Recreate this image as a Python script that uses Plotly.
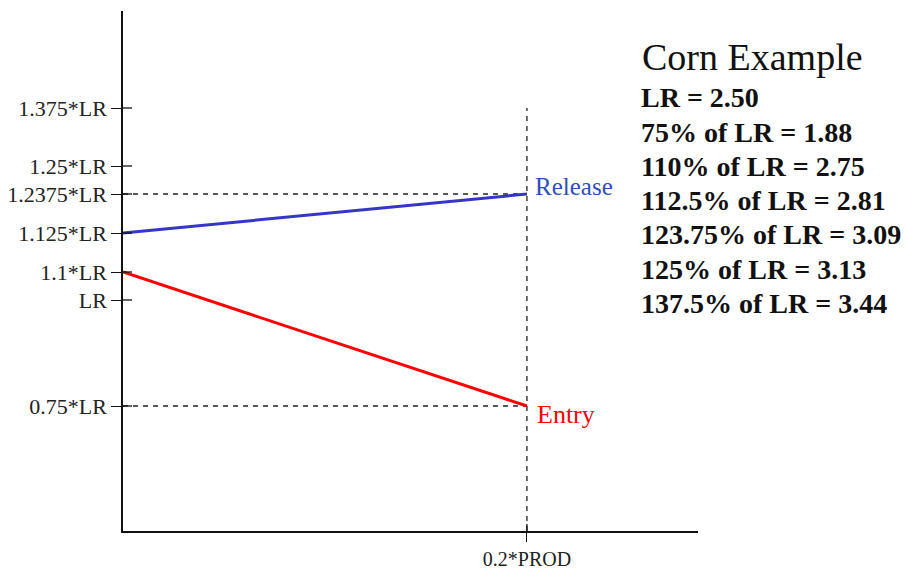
import plotly.graph_objects as go

# Schematic price levels. The reference draws them at hand-picked heights,
# not on a linear scale, so each level carries its drawn height (px above axis).
LEVEL_LABELS = ["0.75*LR", "LR", "1.1*LR", "1.125*LR", "1.2375*LR", "1.25*LR", "1.375*LR"]
LEVEL_HEIGHTS = [125, 231, 259, 298, 337, 365, 423]

PROD_X = 0.2
PROD_LABEL = "0.2*PROD"
X_MAX = 0.2847

# Trigger lines: start at 0, end at 0.2*PROD
RELEASE_Y = [298, 337]   # 1.125*LR -> 1.2375*LR
ENTRY_Y = [259, 125]     # 1.1*LR -> 0.75*LR

NOTE_TITLE = "Corn Example"
NOTE_LINES = [
    "LR = 2.50",
    "75% of LR = 1.88",
    "110% of LR = 2.75",
    "112.5% of LR = 2.81",
    "123.75% of LR = 3.09",
    "125% of LR = 3.13",
    "137.5% of LR = 3.44",
]

FONT = "Liberation Serif, Times New Roman, serif"
DASH = "5px,5px"

fig = go.Figure()

# Dashed guides
for y in (LEVEL_HEIGHTS[4], LEVEL_HEIGHTS[0]):
    fig.add_trace(go.Scatter(x=[0, PROD_X], y=[y, y], mode="lines",
                             line=dict(color="#222", width=1.3, dash=DASH),
                             hoverinfo="skip", showlegend=False))
fig.add_trace(go.Scatter(x=[PROD_X, PROD_X], y=[0, LEVEL_HEIGHTS[6]], mode="lines",
                         line=dict(color="#222", width=1.3, dash=DASH),
                         hoverinfo="skip", showlegend=False))

fig.add_trace(go.Scatter(x=[0, PROD_X], y=RELEASE_Y, mode="lines",
                         line=dict(color="#3535c8", width=3), name="Release",
                         showlegend=False))
fig.add_trace(go.Scatter(x=[0, PROD_X], y=ENTRY_Y, mode="lines",
                         line=dict(color="#ff0000", width=3), name="Entry",
                         showlegend=False))

# Inner half of the crossing tick marks
for y in LEVEL_HEIGHTS:
    fig.add_shape(type="line", xref="x", yref="y", xsizemode="pixel", xanchor=0,
                  x0=0, x1=9, y0=y, y1=y, line=dict(color="#111", width=1.3))
fig.add_shape(type="line", xref="x", yref="y", ysizemode="pixel", yanchor=0,
              x0=PROD_X, x1=PROD_X, y0=0, y1=7, line=dict(color="#111", width=1.3))

fig.add_annotation(x=PROD_X, y=RELEASE_Y[1], text="Release", showarrow=False,
                   xanchor="left", yanchor="middle", xshift=6, yshift=8,
                   font=dict(family=FONT, size=25, color="#2f4fb5"))
fig.add_annotation(x=PROD_X, y=ENTRY_Y[1], text="Entry", showarrow=False,
                   xanchor="left", yanchor="middle", xshift=8, yshift=-8,
                   font=dict(family=FONT, size=26, color="#ff0000"))

fig.add_annotation(xref="paper", yref="paper", x=0.899, y=0.9115, text=NOTE_TITLE,
                   showarrow=False, xanchor="left", yanchor="middle",
                   font=dict(family=FONT, size=38, color="#111"))
for i, line in enumerate(NOTE_LINES):
    fig.add_annotation(xref="paper", yref="paper", x=0.897,
                       y=(531 - (98 + 34.2 * i)) / 520, text="<b>%s</b>" % line,
                       showarrow=False, xanchor="left", yanchor="middle",
                       font=dict(family=FONT, size=28, color="#111"))

fig.update_layout(
    width=906, height=569,
    margin=dict(l=123, r=208, t=11, b=38),
    plot_bgcolor="white", paper_bgcolor="white",
    font=dict(family=FONT, color="#222"),
    showlegend=False,
)
fig.update_xaxes(range=[0, X_MAX], showgrid=False, zeroline=False, automargin=False,
                 showline=True, linecolor="#111", linewidth=1.5,
                 tickvals=[PROD_X], ticktext=[PROD_LABEL],
                 ticks="outside", ticklen=9, tickwidth=1.3, tickcolor="#111",
                 tickfont=dict(family=FONT, size=20, color="#222"))
fig.update_yaxes(range=[0, 520], showgrid=False, zeroline=False, automargin=False,
                 showline=True, linecolor="#111", linewidth=1.5,
                 tickvals=LEVEL_HEIGHTS, ticktext=LEVEL_LABELS,
                 ticks="outside", ticklen=10, tickwidth=1.3, tickcolor="#111",
                 tickfont=dict(family=FONT, size=22, color="#222"))

# drop the default 8px body margin so the figure sits at the page origin
fig.write_html("out.html", config={"displayModeBar": False},
               post_script="document.body.style.margin='0';")
